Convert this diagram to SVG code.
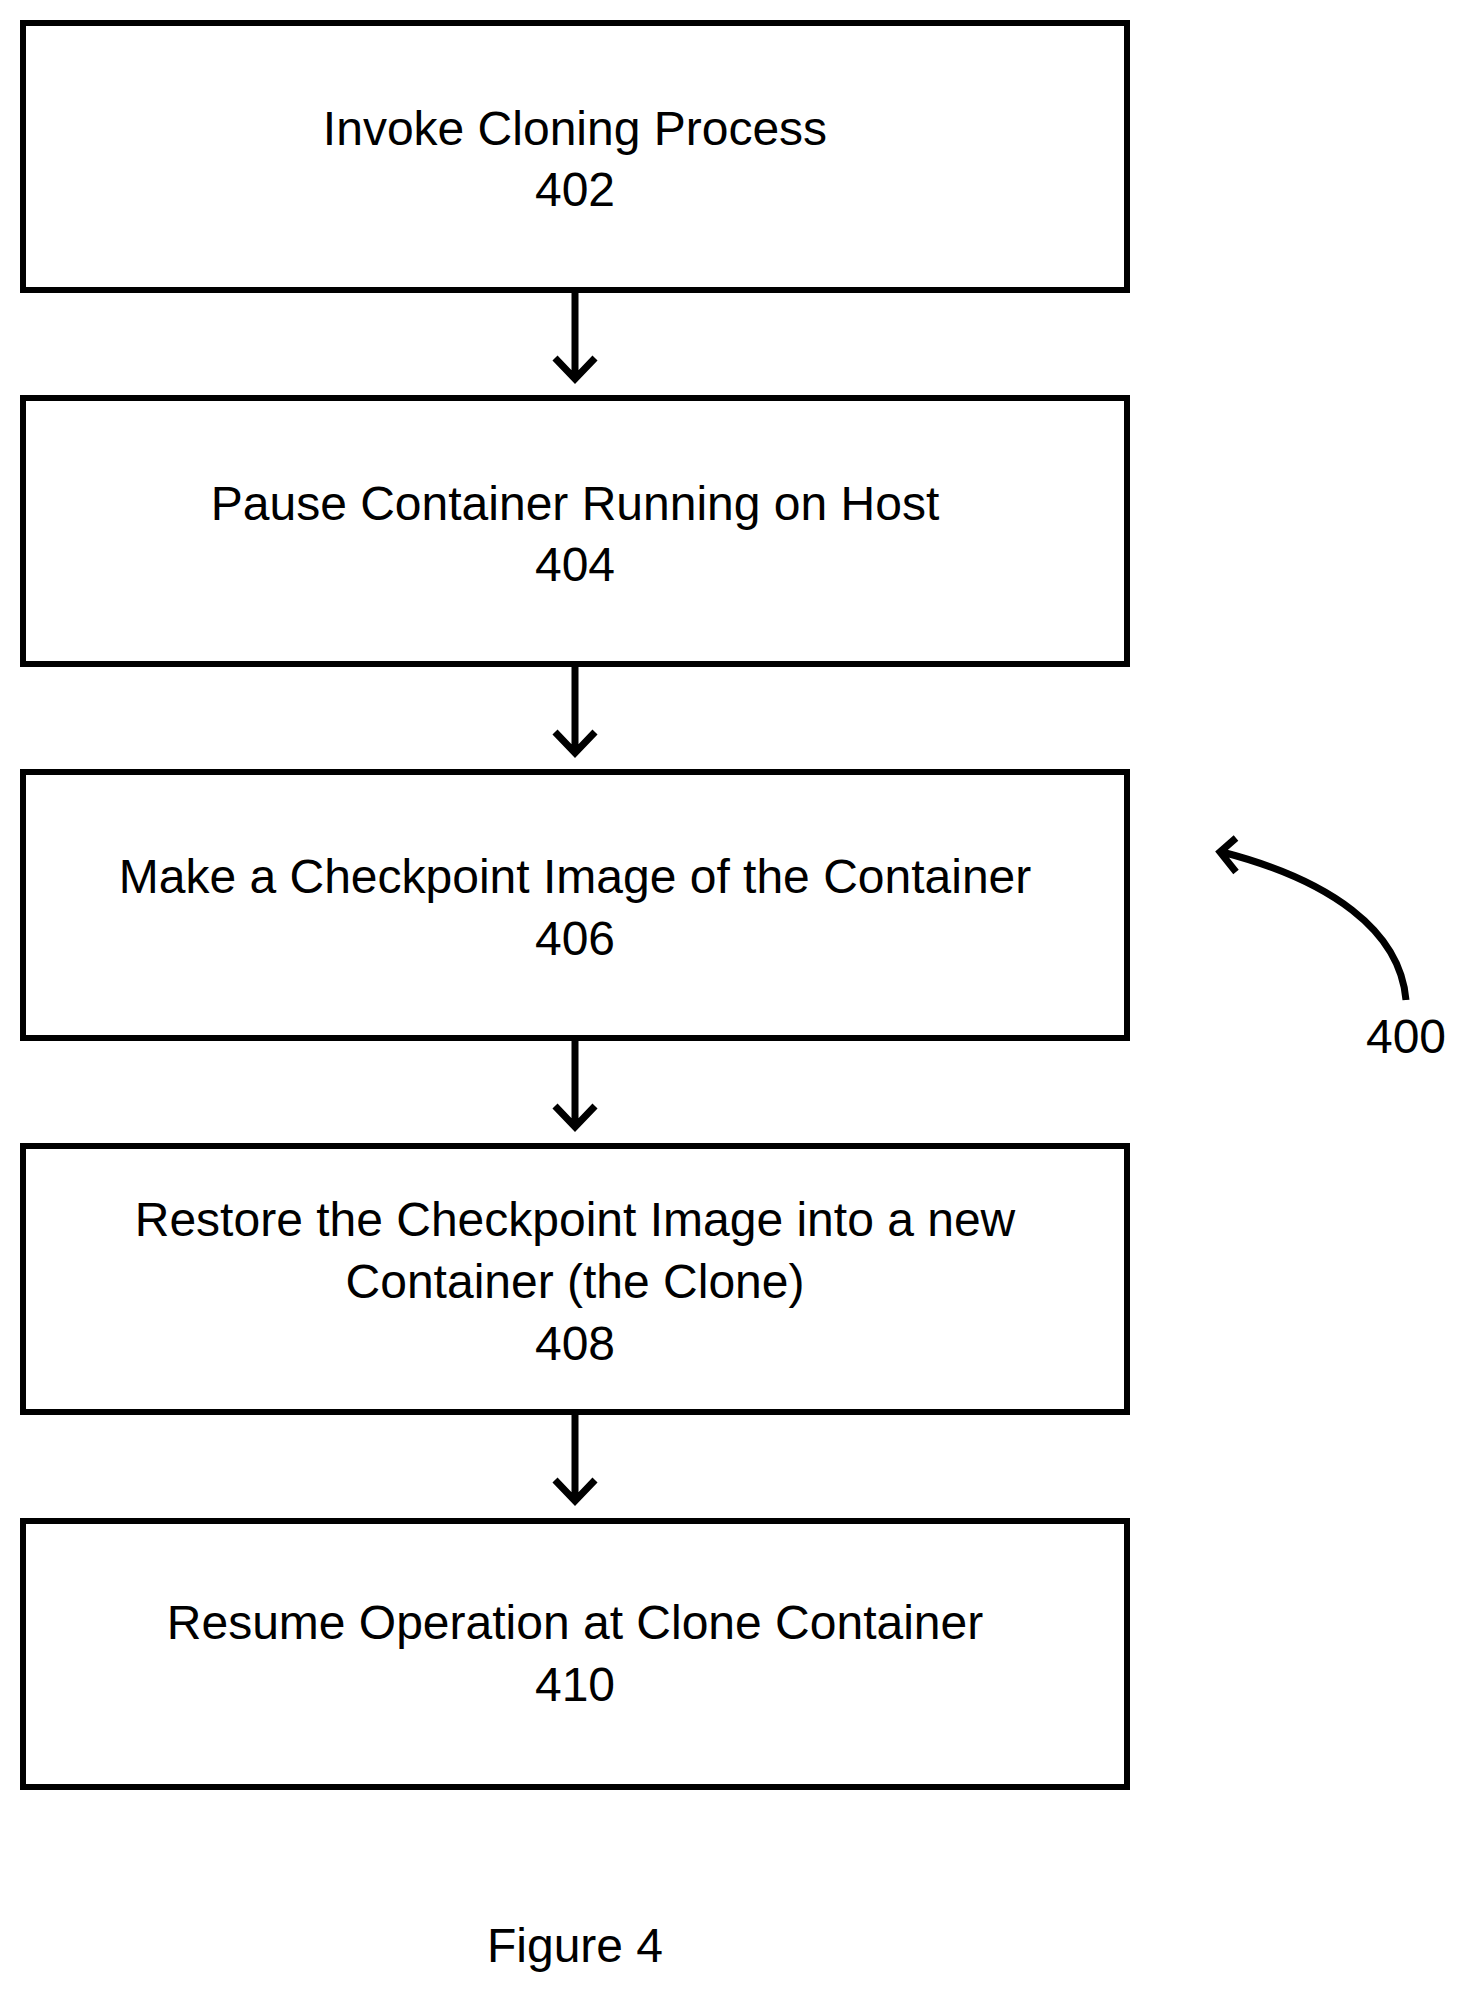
<svg xmlns="http://www.w3.org/2000/svg" width="1469" height="1989" viewBox="0 0 1469 1989">
<style>
.box{fill:#fff;stroke:#000;stroke-width:6}
.t{font-family:"Liberation Sans",Arial,sans-serif;font-size:48px;text-anchor:middle;fill:#000}
.c{fill:none;stroke:#000;stroke-width:7}
</style>
<rect width="1469" height="1989" fill="#fff"/>
<g id="n402"><rect class="box" x="23" y="23" width="1104" height="267"/><text class="t" x="575" y="145">Invoke Cloning Process</text><text class="t" x="575" y="206">402</text></g>
<g id="n404"><rect class="box" x="23" y="398" width="1104" height="266"/><text class="t" x="575" y="520">Pause Container Running on Host</text><text class="t" x="575" y="581">404</text></g>
<g id="n406"><rect class="box" x="23" y="772" width="1104" height="266"/><text class="t" x="575" y="893">Make a Checkpoint Image of the Container</text><text class="t" x="575" y="955">406</text></g>
<g id="n408"><rect class="box" x="23" y="1146" width="1104" height="266"/><text class="t" x="575" y="1236">Restore the Checkpoint Image into a new</text><text class="t" x="575" y="1298">Container (the Clone)</text><text class="t" x="575" y="1360">408</text></g>
<g id="n410"><rect class="box" x="23" y="1521" width="1104" height="266"/><text class="t" x="575" y="1639">Resume Operation at Clone Container</text><text class="t" x="575" y="1701">410</text></g>
<g id="connectors">
<path class="c" d="M575 290V378M555 358L575 379L595 358"/>
<path class="c" d="M575 664V752M555 732L575 753L595 732"/>
<path class="c" d="M575 1038V1126M555 1106L575 1127L595 1106"/>
<path class="c" d="M575 1412V1500M555 1480L575 1501L595 1480"/>
<path class="c" d="M1406 1000C1400 930 1330 880 1222 852M1236 838L1220 852L1236 872"/>
</g>
<text class="t" x="1406" y="1053">400</text>
<text class="t" x="575" y="1962">Figure 4</text>
</svg>
